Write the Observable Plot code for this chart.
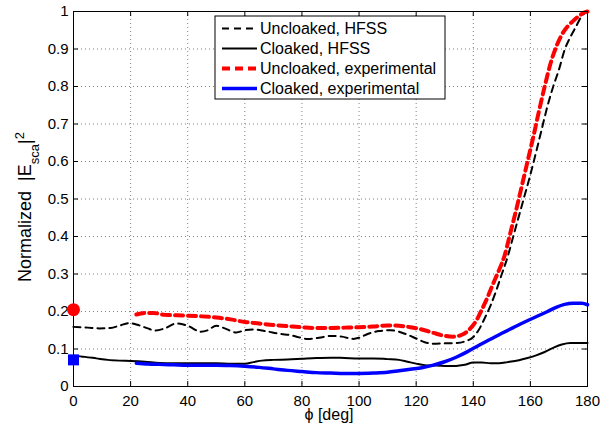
<!DOCTYPE html>
<html><head><meta charset="utf-8">
<script src="https://cdn.jsdelivr.net/npm/d3@7"></script>
<script src="https://cdn.jsdelivr.net/npm/@observablehq/plot@0.6"></script>
<style>
html,body{margin:0;padding:0;background:#fff;}
#chart{width:610px;height:429px;position:relative;}
</style></head><body><div id="chart"></div>
<script>
// ---- data ----
const xTicks = [0, 20, 40, 60, 80, 100, 120, 140, 160, 180];
const yTicks = [0, 0.1, 0.2, 0.3, 0.4, 0.5, 0.6, 0.7, 0.8, 0.9, 1];
const yTickLabels = ["0", "0.1", "0.2", "0.3", "0.4", "0.5", "0.6", "0.7", "0.8", "0.9", "1"];

const seriesNames = ["Uncloaked, HFSS", "Cloaked, HFSS", "Uncloaked, experimental", "Cloaked, experimental"];

const phiUncloakedHFSS = [0, 5, 9, 13, 16, 19.5, 23, 26, 28.5, 32, 36, 40, 44.6, 47, 50, 53, 57, 60, 63, 67, 72.6, 76, 79, 82, 86, 90, 94, 98, 100, 103, 107, 111, 114, 117, 120, 123, 126, 130, 134, 137, 140, 142, 144, 146, 148, 150, 152, 154, 156, 158, 160, 162, 164, 166, 168, 170, 172, 174, 176, 178, 180];
const valUncloakedHFSS = [0.159, 0.157, 0.155, 0.156, 0.162, 0.169, 0.163, 0.155, 0.149, 0.155, 0.168, 0.162, 0.146, 0.150, 0.162, 0.155, 0.144, 0.150, 0.152, 0.148, 0.140, 0.137, 0.131, 0.127, 0.130, 0.135, 0.133, 0.127, 0.130, 0.140, 0.148, 0.150, 0.146, 0.138, 0.128, 0.118, 0.114, 0.115, 0.116, 0.120, 0.132, 0.152, 0.182, 0.215, 0.255, 0.300, 0.345, 0.400, 0.455, 0.510, 0.565, 0.625, 0.687, 0.748, 0.800, 0.845, 0.898, 0.932, 0.960, 0.988, 1.0];

const phiCloakedHFSS = [0, 4, 8, 12, 16, 20, 25, 30, 35, 40, 45, 50, 55, 60, 63, 66, 70, 75, 80, 85, 90, 95, 100, 105, 110, 114, 117, 120, 123, 126, 130, 134, 137, 140, 143, 146, 149, 152, 156, 159, 162, 165, 168, 171, 174, 177, 180];
const valCloakedHFSS = [0.082, 0.079, 0.075, 0.071, 0.069, 0.068, 0.066, 0.063, 0.062, 0.062, 0.062, 0.062, 0.061, 0.061, 0.065, 0.069, 0.071, 0.072, 0.074, 0.076, 0.077, 0.076, 0.075, 0.075, 0.073, 0.071, 0.066, 0.061, 0.057, 0.056, 0.055, 0.055, 0.058, 0.064, 0.064, 0.062, 0.062, 0.065, 0.070, 0.076, 0.083, 0.092, 0.103, 0.112, 0.116, 0.116, 0.116];

const phiUncloakedExp = [22, 25, 28, 32, 36, 40, 45, 50, 55, 60, 65, 70, 75, 80, 85, 90, 95, 100, 105, 110, 114, 118, 122, 126, 130, 133, 136, 139, 141, 143, 145, 147, 149, 151, 153, 155, 157, 159, 161, 163, 165, 167, 169, 171, 173, 175, 177, 179, 180];
const valUncloakedExp = [0.192, 0.196, 0.196, 0.191, 0.190, 0.189, 0.187, 0.184, 0.179, 0.172, 0.168, 0.164, 0.161, 0.158, 0.156, 0.156, 0.157, 0.158, 0.160, 0.163, 0.162, 0.158, 0.152, 0.143, 0.135, 0.133, 0.138, 0.155, 0.175, 0.205, 0.238, 0.275, 0.310, 0.350, 0.410, 0.470, 0.535, 0.600, 0.665, 0.734, 0.800, 0.860, 0.905, 0.938, 0.960, 0.975, 0.988, 0.998, 1.0];

const phiCloakedExp = [22, 26, 30, 35, 40, 45, 50, 55, 60, 65, 70, 75, 80, 85, 90, 95, 100, 105, 110, 114, 118, 122, 126, 130, 134, 138, 142, 146, 150, 154, 158, 162, 166, 169, 172, 175, 178, 180];
const valCloakedExp = [0.062, 0.060, 0.059, 0.058, 0.057, 0.057, 0.057, 0.056, 0.054, 0.051, 0.047, 0.043, 0.040, 0.037, 0.036, 0.035, 0.035, 0.036, 0.038, 0.042, 0.046, 0.050, 0.057, 0.066, 0.078, 0.093, 0.110, 0.126, 0.142, 0.157, 0.172, 0.186, 0.200, 0.211, 0.219, 0.222, 0.222, 0.218];

// single measured points at phi = 0
const markerUncloakedPhi = [0];
const markerUncloakedVal = [0.205];
const markerCloakedPhi = [0];
const markerCloakedVal = [0.071];

// ---- build tables ----
const toRows = (xs, ys) => xs.map((x, i) => ({x, y: ys[i]}));
const dUH = toRows(phiUncloakedHFSS, valUncloakedHFSS);
const dCH = toRows(phiCloakedHFSS, valCloakedHFSS);
const dUE = toRows(phiUncloakedExp, valUncloakedExp);
const dCE = toRows(phiCloakedExp, valCloakedExp);
const mU = toRows(markerUncloakedPhi, markerUncloakedVal);
const mC = toRows(markerCloakedPhi, markerCloakedVal);

const W = 610, H = 429, mL = 73, mR = 23, mT = 11, mB = 43;
const innerW = W - mL - mR, innerH = H - mT - mB;
const FONT = '"Liberation Sans", Arial, Helvetica, sans-serif';

const styles = [
  {stroke: "black", strokeWidth: 2, strokeDasharray: "7,5"},
  {stroke: "black", strokeWidth: 2},
  {stroke: "#ff0000", strokeWidth: 4, strokeDasharray: "8,5"},
  {stroke: "#0000ff", strokeWidth: 3.5}
];

const chart = Plot.plot({
  width: W, height: H,
  marginLeft: mL, marginRight: mR, marginTop: mT, marginBottom: mB,
  style: {fontFamily: FONT, fontSize: "15px", color: "black", background: "white"},
  x: {domain: [0, 180]},
  y: {domain: [0, 1]},
  marks: [
    Plot.gridX(xTicks, {stroke: "#808080", strokeOpacity: 1, strokeDasharray: "1,3"}),
    Plot.gridY(yTicks, {stroke: "#808080", strokeOpacity: 1, strokeDasharray: "1,3"}),
    // inward ticks (MATLAB style)
    Plot.tickX(xTicks, {x: d => d, insetTop: innerH - 5, stroke: "black"}),
    Plot.tickX(xTicks, {x: d => d, insetBottom: innerH - 5, stroke: "black"}),
    Plot.tickY(yTicks, {y: d => d, insetRight: innerW - 5, stroke: "black"}),
    Plot.tickY(yTicks, {y: d => d, insetLeft: innerW - 5, stroke: "black"}),
    Plot.axisX(xTicks, {tickSize: 0, tickPadding: 9, label: null, fontSize: 15}),
    Plot.axisY(yTicks, {tickSize: 0, tickPadding: 5, label: null, fontSize: 15,
      tickFormat: d => yTickLabels[yTicks.indexOf(d)]}),
    Plot.line(dUH, {x: "x", y: "y", curve: "monotone-x", ...styles[0]}),
    Plot.line(dCH, {x: "x", y: "y", curve: "monotone-x", ...styles[1]}),
    Plot.line(dUE, {x: "x", y: "y", curve: "monotone-x", ...styles[2]}),
    Plot.line(dCE, {x: "x", y: "y", curve: "monotone-x", ...styles[3]}),
    Plot.frame({stroke: "black", strokeWidth: 1}),
    Plot.dot(mU, {x: "x", y: "y", r: 6.5, fill: "#ff0000", stroke: null}),
    Plot.dot(mC, {x: "x", y: "y", r: 6.2, symbol: "square", fill: "#0000ff", stroke: null})
  ]
});

document.getElementById("chart").appendChild(chart);

// ---- axis labels & legend appended into the svg ----
const svg = d3.select(chart);

svg.append("text")
  .attr("x", mL + innerW / 2 - 1).attr("y", 420)
  .attr("text-anchor", "middle")
  .attr("font-family", FONT).attr("font-size", 16)
  .text("ϕ [deg]");

const yl = svg.append("text")
  .attr("transform", "translate(31,207) rotate(-90)")
  .attr("text-anchor", "middle")
  .attr("font-family", FONT).attr("font-size", 18)
  .style("white-space", "pre");
yl.append("tspan").text("Normalized  |E");
yl.append("tspan").attr("baseline-shift", "sub").attr("font-size", 13).text("sca");
yl.append("tspan").text("|");
yl.append("tspan").attr("baseline-shift", "super").attr("font-size", 13).text("2");

const lg = svg.append("g").attr("transform", "translate(215,16)");
lg.append("rect").attr("width", 230).attr("height", 83)
  .attr("fill", "white").attr("stroke", "black").attr("stroke-width", 1);
seriesNames.forEach((name, i) => {
  const yy = 12.5 + i * 20;
  const s = styles[i];
  lg.append("line").attr("x1", 7).attr("x2", 42).attr("y1", yy).attr("y2", yy)
    .attr("stroke", s.stroke).attr("stroke-width", s.strokeWidth)
    .attr("stroke-dasharray", s.strokeDasharray || null);
  lg.append("text").attr("x", 45).attr("y", yy).attr("dy", "0.35em")
    .attr("text-anchor", "start")
    .attr("font-family", FONT).attr("font-size", 16).text(name);
});
</script></body></html>
